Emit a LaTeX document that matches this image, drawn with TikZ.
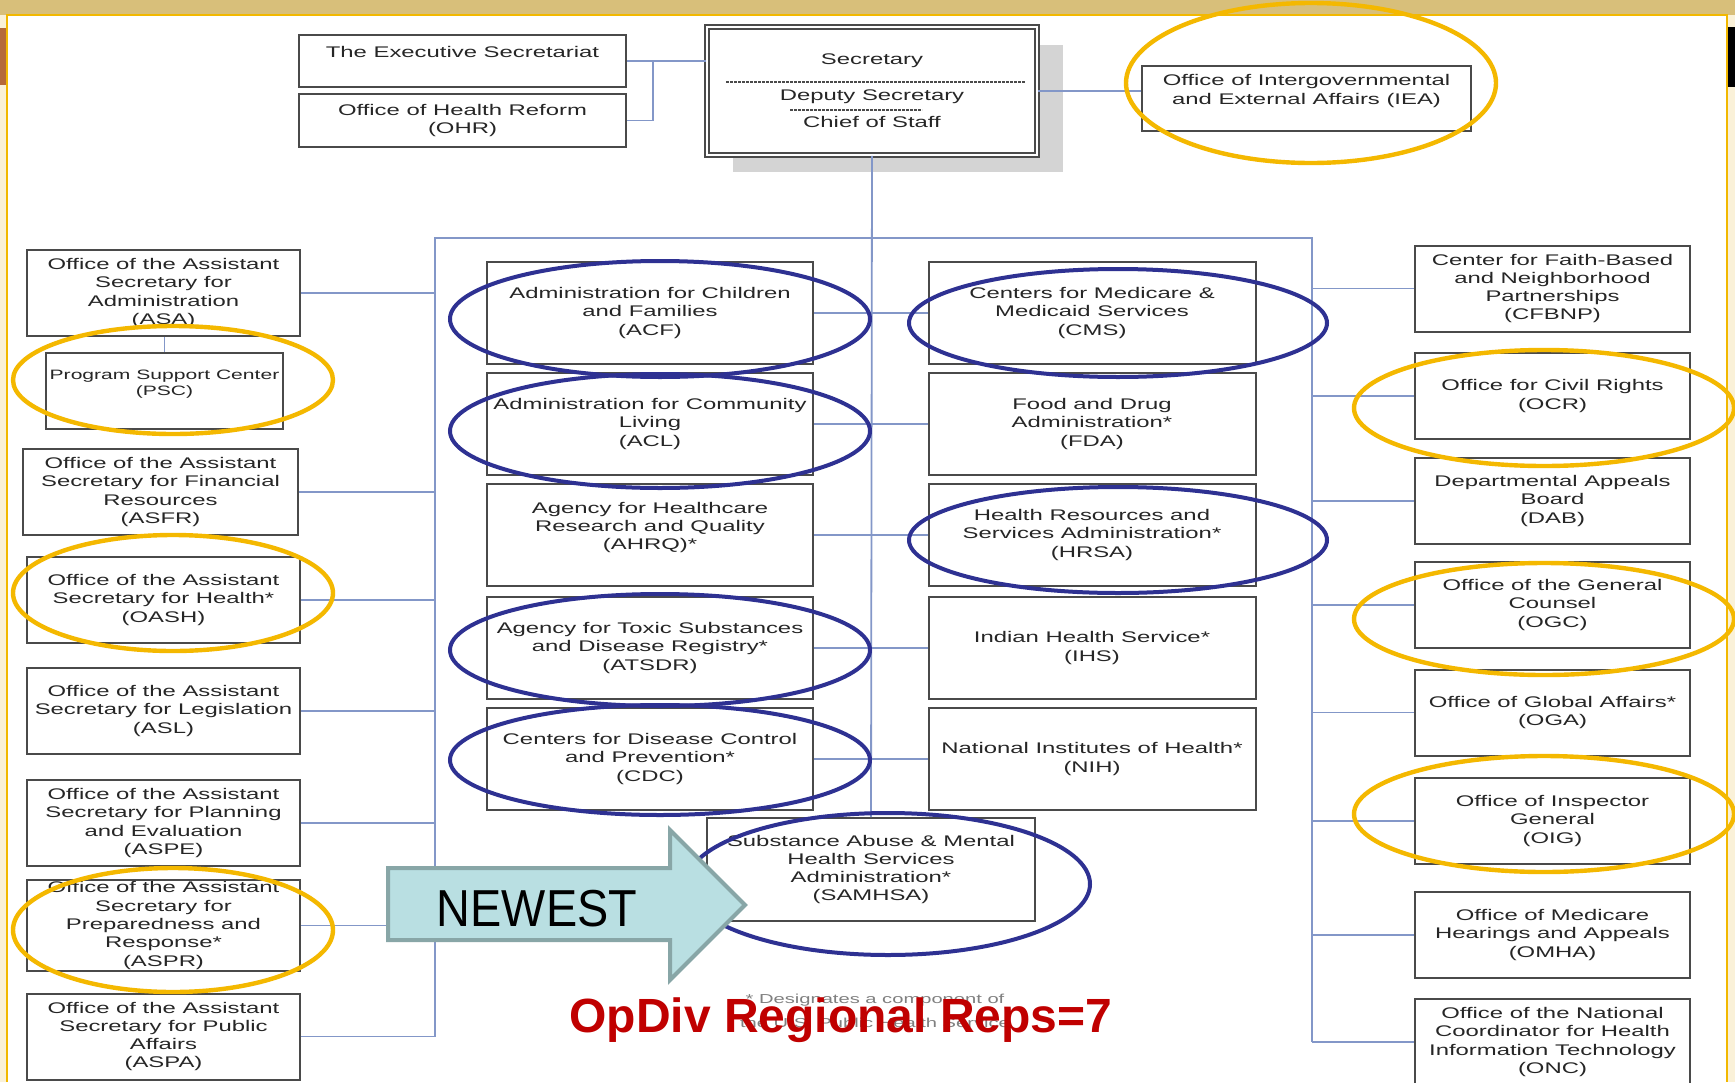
\documentclass[tikz,border=0pt]{standalone}
\usepackage{fontspec}
\setmainfont{Liberation Sans}
\newfontfamily\orgfont[FakeStretch=1.55]{Liberation Sans}
\newfontfamily\bannerfont[FakeStretch=0.9]{Liberation Sans}
\definecolor{bandtan}{HTML}{D8BF7A}
\definecolor{framegold}{HTML}{F2B800}
\definecolor{sidecream}{HTML}{FAF1D8}
\definecolor{siderust}{HTML}{B5693A}
\definecolor{ovalblue}{HTML}{2E3192}
\definecolor{ovalgold}{HTML}{F4B800}
\definecolor{linkblue}{HTML}{8397C8}
\definecolor{boxgray}{HTML}{4A4A4A}
\definecolor{textgray}{HTML}{262626}
\definecolor{shadowgray}{HTML}{D4D4D4}
\definecolor{arrowfill}{HTML}{B9DFE2}
\definecolor{arrowline}{HTML}{88A6A7}
\definecolor{repred}{HTML}{C00000}
\begin{document}
\begin{tikzpicture}[
				x=0.5pt, y=-0.5pt,
				box/.style={draw=boxgray, line width=1pt, fill=white, align=center, inner sep=1pt, text=textgray, font=\orgfont\fontsize{7.7}{9.15}\selectfont},
				lbox/.style={box, minimum width=136.5pt, minimum height=43pt},
				mbox/.style={box, minimum width=163pt, minimum height=51pt},
				rbox/.style={box, minimum width=137.5pt, minimum height=43pt},
				link/.style={draw=linkblue, line width=0.9pt},
				blueoval/.style={draw=ovalblue, line width=2pt},
				goldoval/.style={draw=ovalgold, line width=2.2pt},
			]
			\useasboundingbox (0,0) rectangle (1735,1082);
			\fill[white] (0,0) rectangle (1735,1082);
			\fill[bandtan] (0,0) rectangle (1735,15);
			\fill[sidecream] (0,15) rectangle (7,1082);
			\fill[sidecream] (1728,15) rectangle (1735,1082);
			\fill[siderust] (0,28) rectangle (7,85);
			\fill[black] (1728,27) rectangle (1735,87);
			\draw[framegold, line width=1.25pt] (7,1082) -- (7,15) -- (1727,15) -- (1727,1082);

			\fill[shadowgray] (733,45) rectangle (1063,172);
			\node[box, double, double distance=1.2pt, line width=0.8pt, minimum width=165pt, minimum height=64pt] (sec) at (872,91)
				{Secretary\\[8.7pt]Deputy Secretary\\[4.5pt]Chief of Staff};
			\draw[boxgray, line width=0.7pt, dash pattern=on 1.4pt off 0.6pt] (726,82) -- (1025,82);
			\draw[boxgray, line width=0.7pt, dash pattern=on 1.4pt off 0.6pt] (790,110) -- (922,110);
			\node[box, minimum width=163.5pt, minimum height=26pt] (exec) at (462.5,61) {The Executive Secretariat\\\mbox{}};
			\node[box, minimum width=163.5pt, minimum height=26.5pt] (ohr) at (462.5,120.5) {Office of Health Reform\\(OHR)};
			\node[box, minimum width=164.5pt, minimum height=32.5pt] (iea) at (1306.5,98.5) {Office of Intergovernmental\\and External Affairs (IEA)\\\mbox{}};

			\node[lbox] (asa) at (163.5,293) {Office of the Assistant\\Secretary for\\Administration\\(ASA)};
			\node[box, minimum width=118.5pt, minimum height=38pt, font=\orgfont\fontsize{6.8}{8.3}\selectfont] (psc) at (164.5,391) {Program Support Center\\(PSC)\\\mbox{}};
			\node[lbox, minimum width=137.5pt] (asfr) at (160.5,492) {Office of the Assistant\\Secretary for Financial\\Resources\\(ASFR)};
			\node[lbox] (oash) at (163.5,600) {Office of the Assistant\\Secretary for Health*\\(OASH)};
			\node[lbox] (asl) at (163.5,711) {Office of the Assistant\\Secretary for Legislation\\(ASL)};
			\node[lbox] (aspe) at (163.5,823) {Office of the Assistant\\Secretary for Planning\\and Evaluation\\(ASPE)};
			\node[lbox] (aspr) at (163.5,925.5) {Office of the Assistant\\Secretary for\\Preparedness and\\Response*\\(ASPR)};
			\node[lbox] (aspa) at (163.5,1036.5) {Office of the Assistant\\Secretary for Public\\Affairs\\(ASPA)};

			\node[mbox] (acf) at (650,313) {Administration for Children\\and Families\\(ACF)};
			\node[mbox] (acl) at (650,424) {Administration for Community\\Living\\(ACL)};
			\node[mbox] (ahrq) at (650,535) {Agency for Healthcare\\Research and Quality\\(AHRQ)*\\\mbox{}};
			\node[mbox] (atsdr) at (650,648) {Agency for Toxic Substances\\and Disease Registry*\\(ATSDR)};
			\node[mbox] (cdc) at (650,759) {Centers for Disease Control\\and Prevention*\\(CDC)};
			\node[mbox, minimum width=163.5pt] (cms) at (1092,313) {Centers for Medicare \&\\Medicaid Services\\(CMS)};
			\node[mbox, minimum width=163.5pt] (fda) at (1092,424) {Food and Drug\\Administration*\\(FDA)};
			\node[mbox, minimum width=163.5pt] (hrsa) at (1092,535) {Health Resources and\\Services Administration*\\(HRSA)};
			\node[mbox, minimum width=163.5pt] (ihs) at (1092,648) {Indian Health Service*\\(IHS)};
			\node[mbox, minimum width=163.5pt] (nih) at (1092,759) {National Institutes of Health*\\(NIH)};
			\node[mbox, minimum width=164pt, minimum height=51.5pt] (samhsa) at (871,869.5) {Substance Abuse \& Mental\\Health Services\\Administration*\\(SAMHSA)};

			\node[rbox] (cfbnp) at (1552.5,288.5) {Center for Faith-Based\\and Neighborhood\\Partnerships\\(CFBNP)};
			\node[rbox] (ocr) at (1552.5,396) {Office for Civil Rights\\(OCR)};
			\node[rbox] (dab) at (1552.5,501) {Departmental Appeals\\Board\\(DAB)};
			\node[rbox] (ogc) at (1552.5,605) {Office of the General\\Counsel\\(OGC)};
			\node[rbox] (oga) at (1552.5,712.5) {Office of Global Affairs*\\(OGA)};
			\node[rbox] (oig) at (1552.5,821) {Office of Inspector\\General\\(OIG)};
			\node[rbox] (omha) at (1552.5,935) {Office of Medicare\\Hearings and Appeals\\(OMHA)};
			\node[rbox] (onc) at (1552.5,1042) {Office of the National\\Coordinator for Health\\Information Technology\\(ONC)};

			\coordinate (ejoin) at (653,61);
			\coordinate (lbus) at (435,238);
			\coordinate (rbus) at (1312,238);
			\draw[link] (exec.east) -- (exec.east -| sec.west);
			\draw[link] (ohr.east) -| (ejoin);
			\draw[link] (sec.east) -- (sec.east -| iea.west);
			\draw[link] (sec.south) -- (samhsa.north);
			\draw[link] (aspa.east -| lbus) -- (lbus) -- (rbus) -- (onc.west -| rbus);
			\draw[link] (psc.north) -- (psc.north |- asa.south);
			\foreach \n in {asa,asfr,oash,asl,aspe,aspr,aspa}
				\draw[link] (\n.east) -- (\n.east -| lbus);
			\foreach \n in {cfbnp,ocr,dab,ogc,oga,oig,omha,onc}
				\draw[link] (\n.west) -- (\n.west -| rbus);
			\foreach \a/\b in {acf/cms,acl/fda,ahrq/hrsa,atsdr/ihs,cdc/nih}
				\draw[link] (\a.east) -- (\b.west);

			\draw[blueoval] (660,319) ellipse [x radius=210, y radius=58];
			\draw[blueoval] (660,431) ellipse [x radius=210, y radius=57];
			\draw[blueoval] (660,650) ellipse [x radius=210, y radius=56];
			\draw[blueoval] (660,760) ellipse [x radius=210, y radius=55];
			\draw[blueoval] (1118,323) ellipse [x radius=209, y radius=54];
			\draw[blueoval] (1118,540) ellipse [x radius=209, y radius=53];
			\draw[blueoval] (888,884) ellipse [x radius=202, y radius=71];
			\draw[goldoval] (1311,83) ellipse [x radius=185, y radius=80];
			\draw[goldoval] (173,380) ellipse [x radius=160, y radius=54];
			\draw[goldoval] (173,593) ellipse [x radius=160, y radius=58];
			\draw[goldoval] (173,930) ellipse [x radius=160, y radius=62];
			\draw[goldoval] (1544,408) ellipse [x radius=190, y radius=58];
			\draw[goldoval] (1544,619) ellipse [x radius=190, y radius=56];
			\draw[goldoval] (1544,814) ellipse [x radius=190, y radius=58];

			\filldraw[fill=arrowfill, draw=arrowline, line width=2pt, line join=miter]
				(388,868) -- (670,868) -- (670,830) -- (745,905) -- (670,980) -- (670,940) -- (388,940) -- cycle;
			\node[font=\bannerfont\fontsize{26}{30}\selectfont, inner sep=0pt] (newest) at (537,909) {NEWEST};

			\node[align=center, text=gray, font=\orgfont\fontsize{6.5}{12}\selectfont] (note) at (875,1011)
				{* Designates a component of\\the U.S. Public Health Service};
			\node[anchor=base, text=repred, font=\bfseries\fontsize{24}{28}\selectfont] (reps) at (841,1032) {OpDiv Regional Reps=7};
		\end{tikzpicture}
\end{document}
